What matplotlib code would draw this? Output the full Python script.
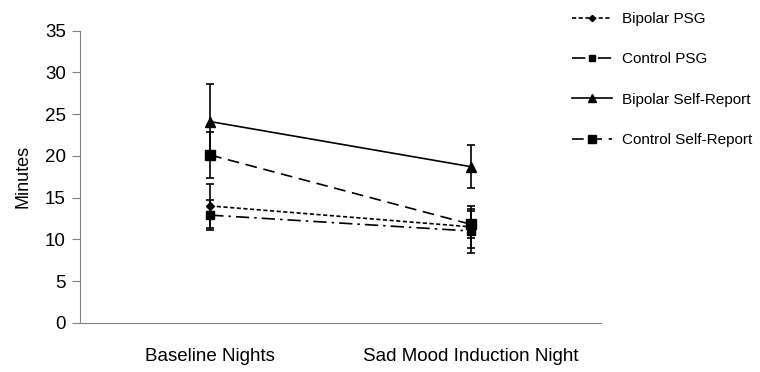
import numpy as np
import matplotlib.pyplot as plt

plt.rcParams['font.family'] = ['Liberation Sans', 'DejaVu Sans']

categories = ["Baseline Nights", "Sad Mood Induction Night"]
series_names = ["Bipolar PSG", "Control PSG", "Bipolar Self-Report", "Control Self-Report"]
bipolar_psg = [14.0, 11.5]
bipolar_psg_err = [2.6, 2.5]
control_psg = [12.9, 11.0]
control_psg_err = [1.8, 2.6]
bipolar_sr = [24.1, 18.7]
bipolar_sr_err = [4.5, 2.6]
control_sr = [20.1, 11.8]
control_sr_err = [2.8, 1.6]


def minutes_graph():
    fig = plt.figure(figsize=(7.6, 3.72), dpi=100)
    ax = fig.add_axes([0.105, 0.132, 0.686, 0.786])
    x = np.arange(len(categories)) + 0.5

    styles = [
        (bipolar_psg, bipolar_psg_err, (0, (2.5, 1.5)), "D", 4),
        (control_psg, control_psg_err, (0, (8, 3, 1.5, 3)), "s", 6),
        (bipolar_sr, bipolar_sr_err, "-", "^", 7),
        (control_sr, control_sr_err, (0, (7, 4)), "s", 7),
    ]
    for (vals, err, ls, mk, ms), name in zip(styles, series_names):
        ax.errorbar(x, vals, yerr=err, color="black", linestyle=ls, marker=mk,
                    markersize=ms, linewidth=1.2, elinewidth=1.2, capsize=3,
                    capthick=1.2, label=name)

    ax.set_xlim(0, 2)
    ax.set_ylim(0, 35)
    ax.set_yticks(np.arange(0, 36, 5))
    ax.set_xticks(x)
    ax.set_xticklabels(categories, fontsize=13.5)
    ax.tick_params(axis="x", length=0, pad=18)
    ax.tick_params(axis="y", labelsize=13.5, length=6, color="#808080", pad=4)
    ax.set_ylabel("Minutes", fontsize=13, labelpad=10)
    for s in ["top", "right"]:
        ax.spines[s].set_visible(False)
    for s in ["left", "bottom"]:
        ax.spines[s].set_color("#808080")

    handles, labels = ax.get_legend_handles_labels()
    handles = [h[0] for h in handles]
    fig.legend(handles, labels, loc="upper left", bbox_to_anchor=(0.7345, 1.005),
               frameon=False, fontsize=11, labelspacing=1.73, markerscale=0.8,
               handlelength=2.6, handletextpad=0.65)

    fig.savefig("out.png", dpi=100)


def main():
    minutes_graph()


if __name__ == "__main__":
    main()
